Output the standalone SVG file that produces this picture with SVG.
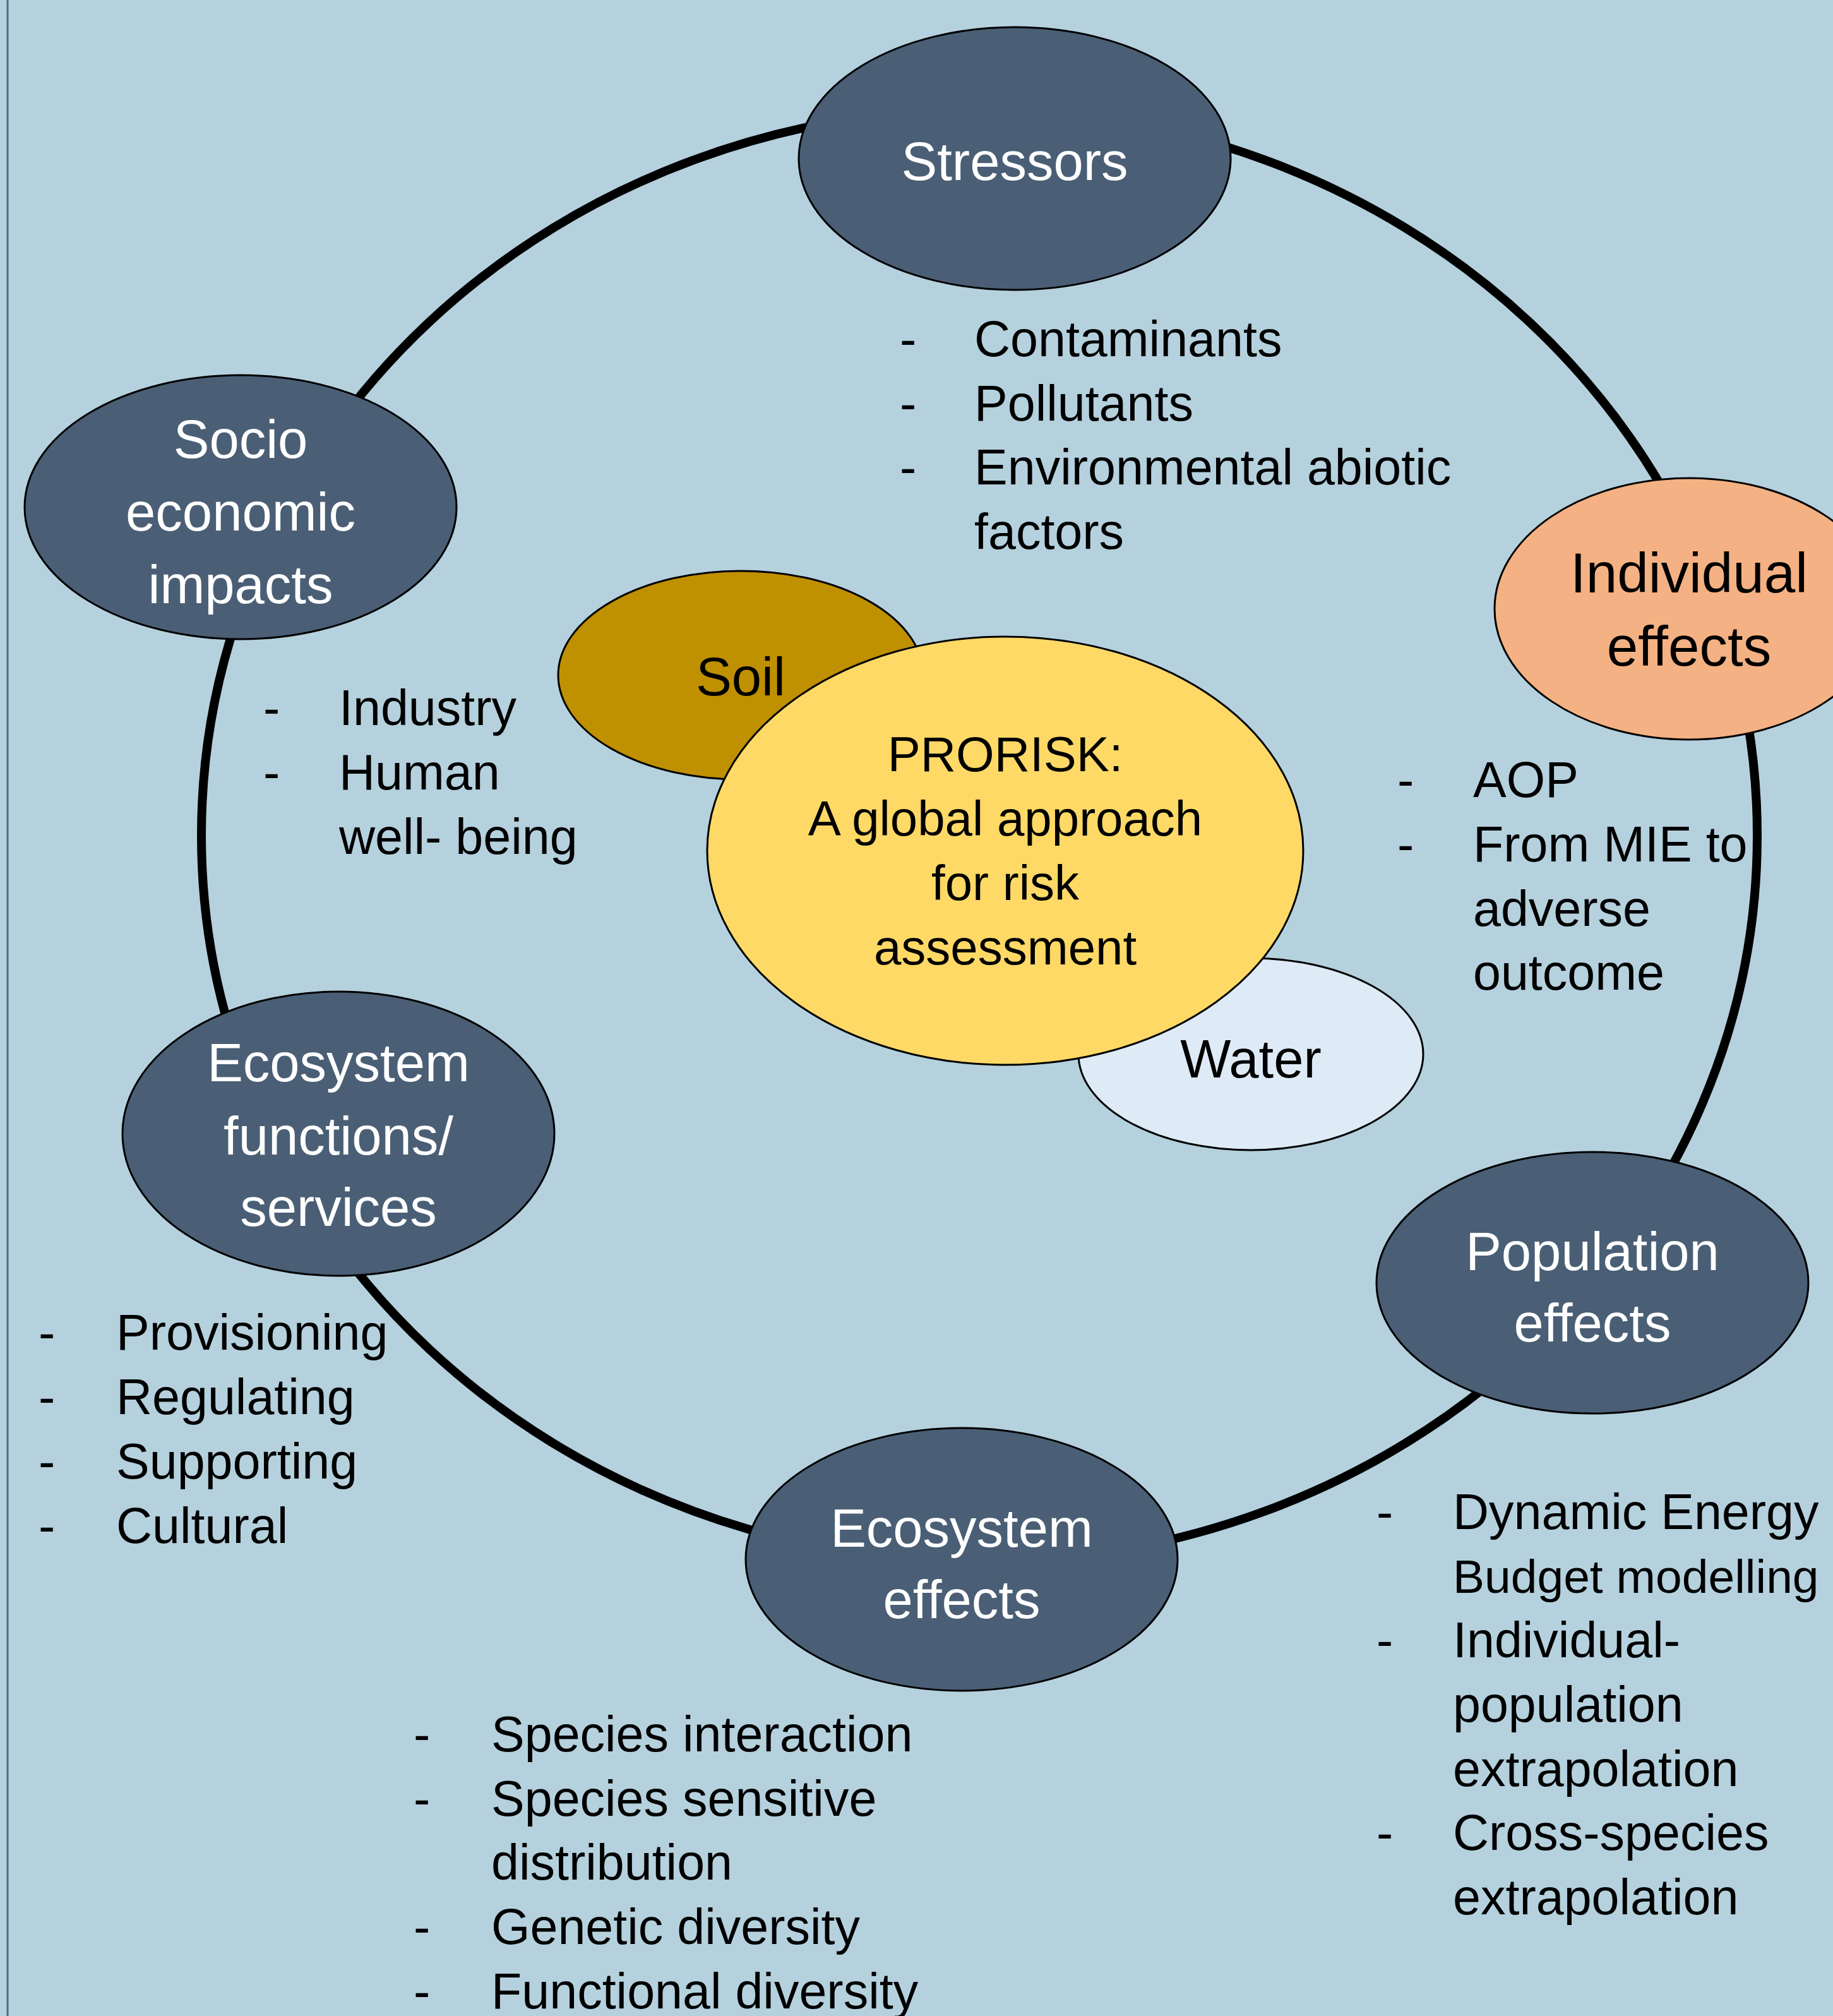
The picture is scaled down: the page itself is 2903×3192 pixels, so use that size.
<svg xmlns="http://www.w3.org/2000/svg" width="2903" height="3192" viewBox="0 0 2903 3192">
  <style>
    .bg { fill: #b5d1de; }
    .node { stroke: #000; stroke-width: 3; }
    .dark { fill: #4a5f75; }
    .label { font-family: "Liberation Sans", Arial, sans-serif; font-size: 85px; text-anchor: middle; }
    .light { fill: #ffffff; }
    .ink { fill: #000000; }
    .list { font-family: "Liberation Sans", Arial, sans-serif; font-size: 79px; fill: #000; }
    .ring { fill: none; stroke: #000; stroke-width: 14; }
  </style>

  <!-- backdrop and left margin rule -->
  <rect class="bg" x="0" y="0" width="2903" height="3192"/>
  <line x1="12" y1="0" x2="12" y2="3192" stroke="#4d6a82" stroke-width="3"/>

  <!-- cycle ring joining the stages -->
  <g id="connectors">
    <ellipse class="ring" cx="1551" cy="1323" rx="1232" ry="1150"/>
  </g>

  <!-- stage nodes -->
  <g id="stressors">
    <ellipse class="node dark" cx="1607" cy="251" rx="342" ry="208"/>
    <text class="label light" x="1607" y="285">Stressors</text>
  </g>

  <g id="individual-effects">
    <ellipse class="node" fill="#f4b183" cx="2675" cy="964" rx="308" ry="207"/>
    <text class="label ink" x="2675" y="938" style="font-size:89px">Individual</text>
    <text class="label ink" x="2675" y="1054" style="font-size:89px">effects</text>
  </g>

  <g id="population-effects">
    <ellipse class="node dark" cx="2522" cy="2031" rx="342" ry="207"/>
    <text class="label light" x="2522" y="2011">Population</text>
    <text class="label light" x="2522" y="2124">effects</text>
  </g>

  <g id="ecosystem-effects">
    <ellipse class="node dark" cx="1523" cy="2469" rx="342" ry="208"/>
    <text class="label light" x="1523" y="2449">Ecosystem</text>
    <text class="label light" x="1523" y="2562">effects</text>
  </g>

  <g id="ecosystem-services">
    <ellipse class="node dark" cx="536" cy="1795" rx="342" ry="225"/>
    <text class="label light" x="536" y="1712">Ecosystem</text>
    <text class="label light" x="536" y="1828">functions/</text>
    <text class="label light" x="536" y="1941">services</text>
  </g>

  <g id="socio-economic">
    <ellipse class="node dark" cx="381" cy="803" rx="342" ry="209"/>
    <text class="label light" x="381" y="725">Socio</text>
    <text class="label light" x="381" y="840">economic</text>
    <text class="label light" x="381" y="955">impacts</text>
  </g>

  <!-- central compartments and project hub -->
  <g id="soil">
    <ellipse class="node" fill="#bf9000" cx="1173" cy="1069" rx="289" ry="165"/>
    <text class="label ink" x="1173" y="1101">Soil</text>
  </g>

  <g id="water">
    <ellipse class="node" fill="#deebf7" cx="1981" cy="1669" rx="273" ry="152"/>
    <text class="label ink" x="1981" y="1706">Water</text>
  </g>

  <g id="prorisk">
    <ellipse class="node" fill="#ffd966" cx="1592" cy="1347" rx="472" ry="339"/>
    <g class="label ink" style="font-size:78px">
      <text x="1592" y="1221">PRORISK:</text>
      <text x="1592" y="1323">A global approach</text>
      <text x="1592" y="1425">for risk</text>
      <text x="1592" y="1527">assessment</text>
    </g>
  </g>

  <!-- bullet lists beside each stage -->
  <g id="stressors-list" class="list">
    <text x="1425" y="564">-</text><text x="1543" y="564">Contaminants</text>
    <text x="1425" y="666">-</text><text x="1543" y="666">Pollutants</text>
    <text x="1425" y="767">-</text><text x="1543" y="767">Environmental abiotic</text>
    <text x="1543" y="869">factors</text>
  </g>

  <g id="socio-list" class="list">
    <text x="417" y="1148">-</text><text x="537" y="1148">Industry</text>
    <text x="417" y="1250">-</text><text x="537" y="1250">Human</text>
    <text x="537" y="1352">well- being</text>
  </g>

  <g id="individual-list" class="list">
    <text x="2213" y="1262">-</text><text x="2333" y="1262">AOP</text>
    <text x="2213" y="1364">-</text><text x="2333" y="1364">From MIE to</text>
    <text x="2333" y="1466">adverse</text>
    <text x="2333" y="1567">outcome</text>
  </g>

  <g id="services-list" class="list">
    <text x="61" y="2137">-</text><text x="184" y="2137">Provisioning</text>
    <text x="61" y="2239">-</text><text x="184" y="2239">Regulating</text>
    <text x="61" y="2341">-</text><text x="184" y="2341">Supporting</text>
    <text x="61" y="2443">-</text><text x="184" y="2443">Cultural</text>
  </g>

  <g id="population-list" class="list">
    <text x="2180" y="2421">-</text><text x="2301" y="2421">Dynamic Energy</text>
    <text x="2301" y="2522" style="font-size:75px">Budget modelling</text>
    <text x="2180" y="2624">-</text><text x="2301" y="2624">Individual-</text>
    <text x="2301" y="2726">population</text>
    <text x="2301" y="2828">extrapolation</text>
    <text x="2180" y="2929">-</text><text x="2301" y="2929">Cross-species</text>
    <text x="2301" y="3031">extrapolation</text>
  </g>

  <g id="ecosystem-list" class="list">
    <text x="655" y="2773">-</text><text x="778" y="2773">Species interaction</text>
    <text x="655" y="2875">-</text><text x="778" y="2875">Species sensitive</text>
    <text x="778" y="2976">distribution</text>
    <text x="655" y="3078">-</text><text x="778" y="3078">Genetic diversity</text>
    <text x="655" y="3180">-</text><text x="778" y="3180">Functional diversity</text>
  </g>
</svg>
